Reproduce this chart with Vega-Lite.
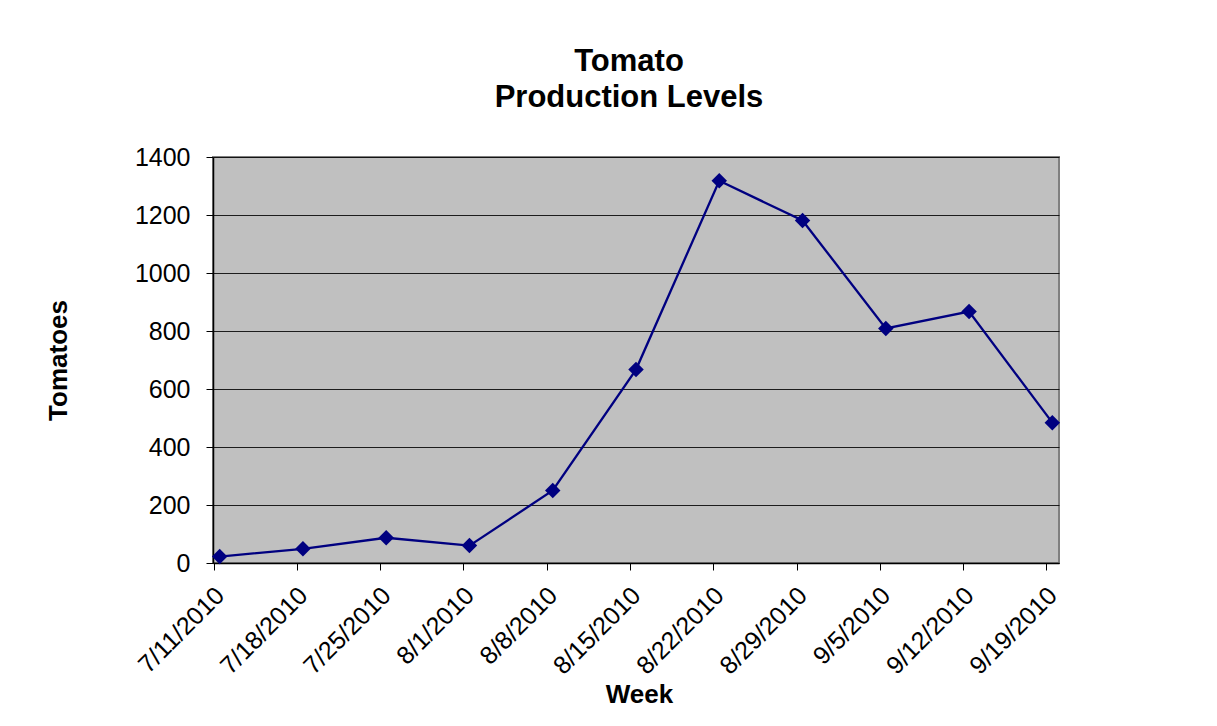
{
  "$schema": "https://vega.github.io/schema/vega-lite/v6.json",
  "autosize": "none",
  "width": 846,
  "height": 406,
  "padding": {"left": 213, "top": 157, "right": 158, "bottom": 163},
  "background": "white",
  "title": {
    "text": ["Tomato", "Production Levels"],
    "font": "Liberation Sans",
    "fontSize": 31,
    "fontWeight": "bold",
    "color": "black",
    "lineHeight": 36,
    "anchor": "middle",
    "frame": "group",
    "offset": 31,
    "dx": -7
  },
  "data": {
    "values": [
      {"week": "7/11/2010", "tomatoes": 22},
      {"week": "7/18/2010", "tomatoes": 49},
      {"week": "7/25/2010", "tomatoes": 87},
      {"week": "8/1/2010", "tomatoes": 60},
      {"week": "8/8/2010", "tomatoes": 250},
      {"week": "8/15/2010", "tomatoes": 667},
      {"week": "8/22/2010", "tomatoes": 1318},
      {"week": "8/29/2010", "tomatoes": 1181},
      {"week": "9/5/2010", "tomatoes": 809},
      {"week": "9/12/2010", "tomatoes": 867},
      {"week": "9/19/2010", "tomatoes": 484}
    ]
  },
  "config": {
    "view": {"fill": "#C0C0C0", "stroke": "#808080", "strokeWidth": 2},
    "axis": {
      "labelFont": "Liberation Sans",
      "labelFontSize": 25,
      "labelColor": "black",
      "titleFont": "Liberation Sans",
      "titleFontSize": 26,
      "titleFontWeight": "bold",
      "titleColor": "black",
      "domainColor": "black",
      "domainWidth": 1.5,
      "tickColor": "black",
      "tickWidth": 1,
      "tickSize": 7
    }
  },
  "encoding": {
    "x": {
      "field": "week",
      "type": "ordinal",
      "sort": null,
      "scale": {"type": "point", "padding": 0.08},
      "axis": {
        "title": "Week",
        "labelAngle": -45,
        "labelAlign": "right",
        "labelBaseline": "middle",
        "labelPadding": 21,
        "labelOffset": 6,
        "tickOffset": -6,
        "grid": false,
        "titleX": 426,
        "titleY": 139,
        "titleAlign": "center",
        "titleBaseline": "alphabetic"
      }
    },
    "y": {
      "field": "tomatoes",
      "type": "quantitative",
      "scale": {"domain": [0, 1400], "nice": false},
      "axis": {
        "title": "Tomatoes",
        "format": "d",
        "values": [0, 200, 400, 600, 800, 1000, 1200, 1400],
        "grid": true,
        "gridColor": "black",
        "gridWidth": 1,
        "gridOpacity": 0.85,
        "labelPadding": 16,
        "titleAngle": -90,
        "titleX": -147,
        "titleY": 203,
        "titleAlign": "center",
        "titleBaseline": "alphabetic"
      }
    }
  },
  "layer": [
    {
      "mark": {"type": "line", "color": "#000080", "strokeWidth": 2.3}
    },
    {
      "mark": {"type": "point", "shape": "diamond", "filled": true, "color": "#000080", "size": 240, "opacity": 1}
    }
  ]
}
